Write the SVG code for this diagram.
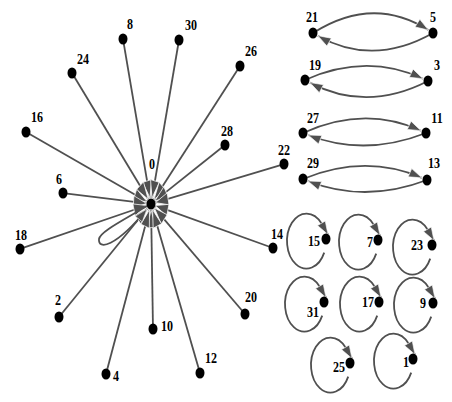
<svg xmlns="http://www.w3.org/2000/svg" width="452" height="402" viewBox="0 0 452 402">
<style>
.e{fill:none;stroke:#505050;stroke-width:1.8;marker-end:url(#ah)}
.h{vector-effect:non-scaling-stroke}
.n{fill:#000}
text{font-family:"Liberation Serif","Times New Roman",serif;font-weight:bold;font-size:12px;fill:#000;text-anchor:middle;transform-box:fill-box;transform-origin:center;transform:scale(1,1.28)}
</style>
<defs>
<marker id="ah" viewBox="0 -4.5 13 9" refX="13" refY="0" markerWidth="13" markerHeight="9" markerUnits="userSpaceOnUse" orient="auto" overflow="visible">
<path d="M0,-4.5 L13,0 L0,4.5 z" fill="#505050" stroke="#fff" stroke-width="0.6"/>
</marker>
</defs>
<rect width="452" height="402" fill="#fff"/>
<g id="connectors">
<g transform="matrix(1 0 0 1.35 0 -71.4)">
<path class="e h" d="M123,81.8 L150,199.6"/>
<path class="e h" d="M179,82.5 L152,199.6"/>
<path class="e h" d="M72,107 L148.2,200.5"/>
<path class="e h" d="M240,101.8 L154,200.6"/>
<path class="e h" d="M26,150.7 L146.9,202.2"/>
<path class="e h" d="M225,160.3 L154.9,201.7"/>
<path class="e h" d="M284,174.4 L155.4,203"/>
<path class="e h" d="M63,195.9 L146.5,203.6"/>
<path class="e h" d="M20,237.3 L146.6,205.1"/>
<path class="e h" d="M273,236.6 L155.3,205.2"/>
<path class="e h" d="M59,287.7 L147.7,207"/>
<path class="e h" d="M153,296.6 L151.1,208.5"/>
<path class="e h" d="M245,285.5 L154.4,206.9"/>
<path class="e h" d="M106,329.9 L149.5,208.2"/>
<path class="e h" d="M200,329.2 L152.6,208.2"/>
</g>
<path class="e" d="M147,206 C120,222 100,232 99,239 C98,250 115,248 147,209"/>
<path class="e" d="M313,33 Q373,-5 428.4,30.1"/>
<path class="e" d="M433,33 Q373,67 317.8,35.7"/>
<path class="e" d="M305,80 Q366.5,52.5 423,78.7"/>
<path class="e" d="M428,81 Q366.5,112.5 309.9,82.6"/>
<path class="e" d="M303,133 Q364.5,105 421,130.7"/>
<path class="e" d="M426,133 Q364.5,157 308.1,135"/>
<path class="e" d="M303,179 Q365,153.5 421.9,177.8"/>
<path class="e" d="M427,180 Q365,203.5 307.9,181"/>
<path class="e" transform="translate(326,239)" d="M-1.8,13.6 A19.5,27.5 0 1 1 -4.6,-15.7 L2,-4.5"/>
<path class="e" transform="translate(378,240)" d="M-1.8,13.6 A19.5,27.5 0 1 1 -4.6,-15.7 L2,-4.5"/>
<path class="e" transform="translate(432,245)" d="M-1.8,13.6 A19.5,27.5 0 1 1 -4.6,-15.7 L2,-4.5"/>
<path class="e" transform="translate(324,302)" d="M-1.8,13.6 A19.5,27.5 0 1 1 -4.6,-15.7 L2,-4.5"/>
<path class="e" transform="translate(379,302)" d="M-1.8,13.6 A19.5,27.5 0 1 1 -4.6,-15.7 L2,-4.5"/>
<path class="e" transform="translate(433,303)" d="M-1.8,13.6 A19.5,27.5 0 1 1 -4.6,-15.7 L2,-4.5"/>
<path class="e" transform="translate(350,363)" d="M-1.8,13.6 A19.5,27.5 0 1 1 -4.6,-15.7 L2,-4.5"/>
<path class="e" transform="translate(413,359)" d="M-1.8,13.6 A19.5,27.5 0 1 1 -4.6,-15.7 L2,-4.5"/>
</g>
<g id="n0"><ellipse class="n" cx="151" cy="204" rx="4.5" ry="5.5"/><text x="152" y="168">0</text></g>
<g id="n8"><ellipse class="n" cx="123" cy="39" rx="4.5" ry="5.5"/><text x="130" y="28">8</text></g>
<g id="n30"><ellipse class="n" cx="179" cy="40" rx="4.5" ry="5.5"/><text x="191" y="29">30</text></g>
<g id="n24"><ellipse class="n" cx="72" cy="73" rx="4.5" ry="5.5"/><text x="83" y="63">24</text></g>
<g id="n26"><ellipse class="n" cx="240" cy="66" rx="4.5" ry="5.5"/><text x="251" y="55">26</text></g>
<g id="n16"><ellipse class="n" cx="26" cy="132" rx="4.5" ry="5.5"/><text x="37" y="121">16</text></g>
<g id="n28"><ellipse class="n" cx="225" cy="145" rx="4.5" ry="5.5"/><text x="227" y="135">28</text></g>
<g id="n22"><ellipse class="n" cx="284" cy="164" rx="4.5" ry="5.5"/><text x="284" y="154">22</text></g>
<g id="n6"><ellipse class="n" cx="63" cy="193" rx="4.5" ry="5.5"/><text x="59" y="183">6</text></g>
<g id="n18"><ellipse class="n" cx="20" cy="249" rx="4.5" ry="5.5"/><text x="21" y="239">18</text></g>
<g id="n14"><ellipse class="n" cx="273" cy="248" rx="4.5" ry="5.5"/><text x="277" y="238">14</text></g>
<g id="n2"><ellipse class="n" cx="59" cy="317" rx="4.5" ry="5.5"/><text x="58" y="304">2</text></g>
<g id="n10"><ellipse class="n" cx="153" cy="329" rx="4.5" ry="5.5"/><text x="167" y="330">10</text></g>
<g id="n20"><ellipse class="n" cx="245" cy="314" rx="4.5" ry="5.5"/><text x="251" y="301">20</text></g>
<g id="n4"><ellipse class="n" cx="106" cy="374" rx="4.5" ry="5.5"/><text x="116" y="380">4</text></g>
<g id="n12"><ellipse class="n" cx="200" cy="373" rx="4.5" ry="5.5"/><text x="211" y="362">12</text></g>
<g id="n21"><ellipse class="n" cx="313" cy="33" rx="4.5" ry="5.5"/><text x="312" y="21">21</text></g>
<g id="n5"><ellipse class="n" cx="433" cy="33" rx="4.5" ry="5.5"/><text x="433" y="21">5</text></g>
<g id="n19"><ellipse class="n" cx="305" cy="80" rx="4.5" ry="5.5"/><text x="315" y="69">19</text></g>
<g id="n3"><ellipse class="n" cx="428" cy="81" rx="4.5" ry="5.5"/><text x="437" y="69">3</text></g>
<g id="n27"><ellipse class="n" cx="303" cy="133" rx="4.5" ry="5.5"/><text x="313" y="122">27</text></g>
<g id="n11"><ellipse class="n" cx="426" cy="133" rx="4.5" ry="5.5"/><text x="437" y="122">11</text></g>
<g id="n29"><ellipse class="n" cx="303" cy="179" rx="4.5" ry="5.5"/><text x="313" y="167">29</text></g>
<g id="n13"><ellipse class="n" cx="427" cy="180" rx="4.5" ry="5.5"/><text x="434" y="167">13</text></g>
<g id="n15"><ellipse class="n" cx="326" cy="239" rx="4.5" ry="5.5"/><text x="314" y="245">15</text></g>
<g id="n7"><ellipse class="n" cx="378" cy="240" rx="4.5" ry="5.5"/><text x="370" y="246">7</text></g>
<g id="n23"><ellipse class="n" cx="432" cy="245" rx="4.5" ry="5.5"/><text x="417" y="249">23</text></g>
<g id="n31"><ellipse class="n" cx="324" cy="302" rx="4.5" ry="5.5"/><text x="313" y="316">31</text></g>
<g id="n17"><ellipse class="n" cx="379" cy="302" rx="4.5" ry="5.5"/><text x="368" y="306">17</text></g>
<g id="n9"><ellipse class="n" cx="433" cy="303" rx="4.5" ry="5.5"/><text x="423" y="307">9</text></g>
<g id="n25"><ellipse class="n" cx="350" cy="363" rx="4.5" ry="5.5"/><text x="339" y="371">25</text></g>
<g id="n1"><ellipse class="n" cx="413" cy="359" rx="4.5" ry="5.5"/><text x="406" y="366">1</text></g>
</svg>
